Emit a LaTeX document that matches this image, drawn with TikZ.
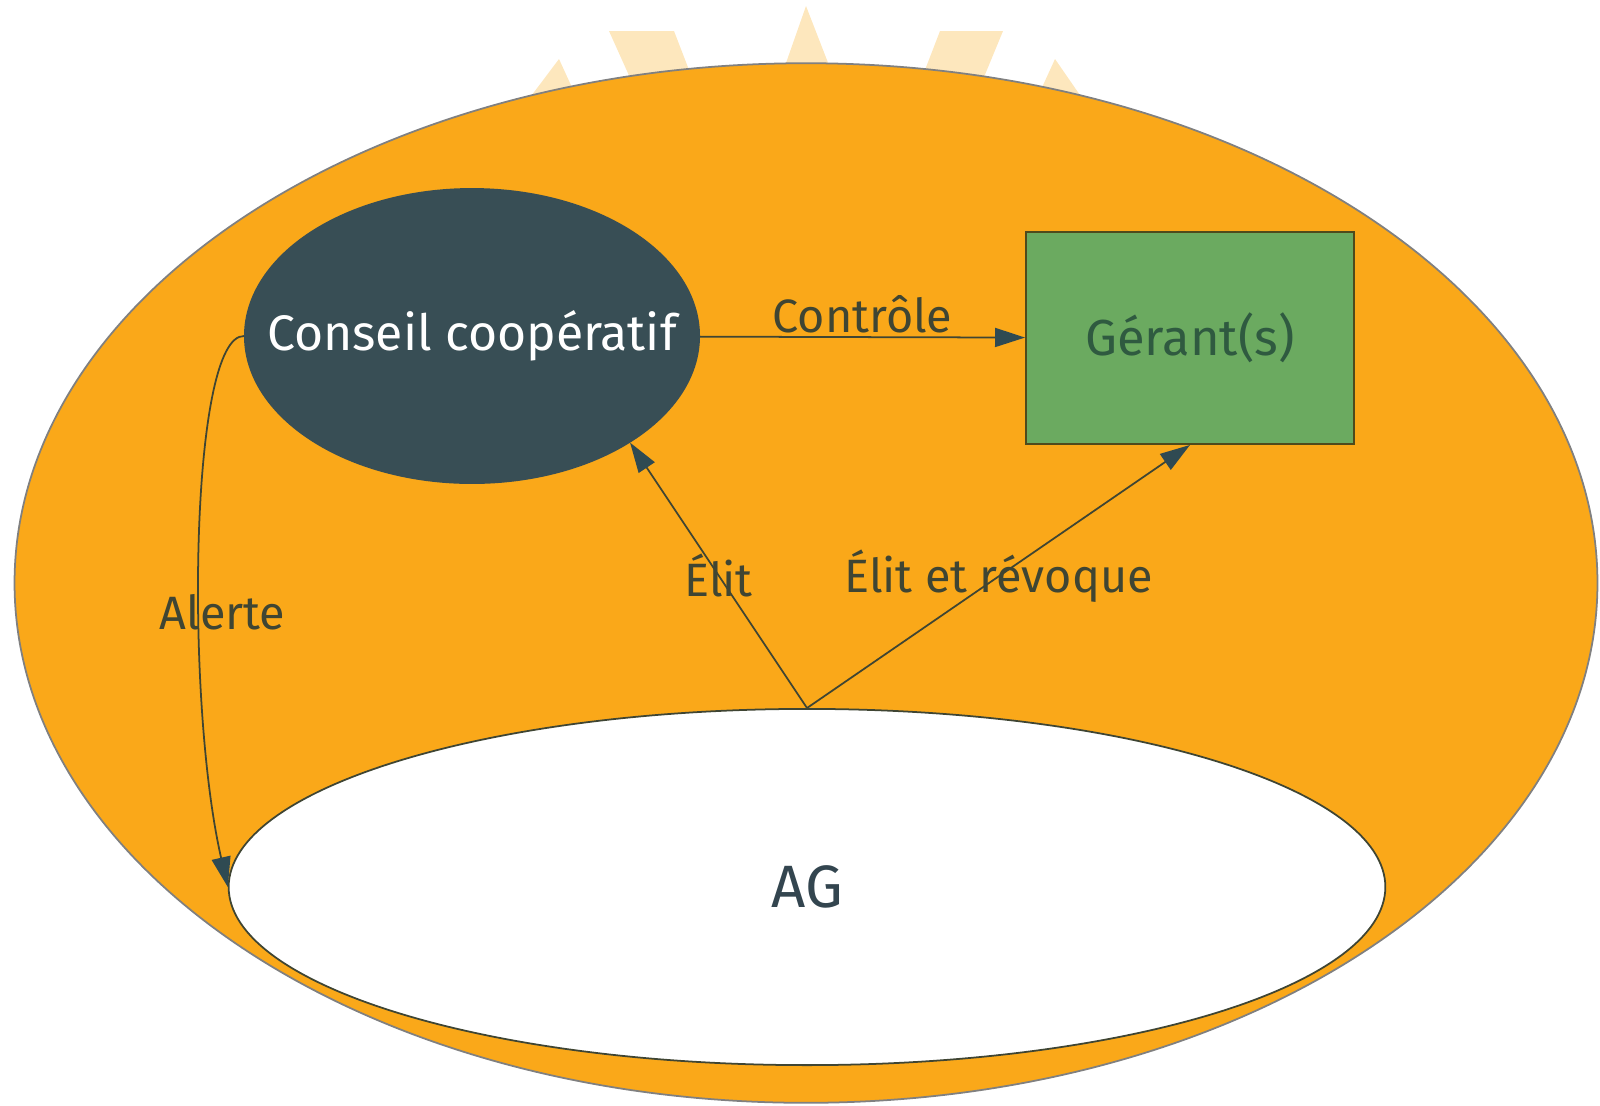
\documentclass[tikz,border=0pt]{standalone}
\usepackage{fontspec}
\setmainfont{Fira Sans}
\usetikzlibrary{shapes.geometric,arrows.meta}
\definecolor{fond}{HTML}{FAA819}
\definecolor{rayon}{HTML}{FDE7BD}
\definecolor{ardoise}{HTML}{384E55}
\definecolor{vert}{HTML}{6BAA60}
\definecolor{trait}{HTML}{3F4533}
\definecolor{pointe}{HTML}{2F4A52}
\definecolor{bordvert}{HTML}{4F4A1C}
\definecolor{textevert}{HTML}{2F5A40}
\definecolor{texteag}{HTML}{33454F}
\begin{document}
\begin{tikzpicture}[->, >={Triangle[length=0.3cm,width=0.19cm,color=pointe]}, x=0.01cm, y=-0.01cm, color=trait, line width=0.5pt, main node/.style={ellipse, draw, inner sep=0pt}]
        \tikzstyle{every node}=[font=\fontsize{13.3}{16}\selectfont]
        \useasboundingbox (0,0) rectangle (1600,1105);

          % rayons derriere
          \fill[-, rayon] (559,59) -- (596,140) -- (498,140) -- cycle;
          \fill[-, rayon] (609,31) -- (674,31) -- (716,140) -- (658,140) -- cycle;
          \fill[-, rayon] (806,6) -- (858,140) -- (759,140) -- cycle;
          \fill[-, rayon] (940,31) -- (1003,31) -- (958,140) -- (898,140) -- cycle;
          \fill[-, rayon] (1055,59) -- (1111,140) -- (1018,140) -- cycle;

          \node[main node, fill=fond, draw=gray, minimum width=15.82cm, minimum height=10.39cm] (0) at (806,583) {};
          \node[main node, fill=ardoise, draw=ardoise, text=white, minimum width=4.54cm, minimum height=2.94cm, font=\fontsize{14.2}{17}\selectfont] (1) at (472,336) {\makebox[0pt]{Conseil coopératif}};
          \node[draw=bordvert, fill=vert, text=textevert, minimum width=3.28cm, minimum height=2.12cm, font=\fontsize{14.4}{17}\selectfont] (2) at (1190,338) {Gérant(s)};
          \node[main node, fill=white, text=texteag, minimum width=11.56cm, minimum height=3.56cm, font=\fontsize{17}{20}\selectfont] (3) at (807,887) {AG};

          \path
            (1) edge node [above, inner sep=1pt] {Contrôle} (2)
            (3.north) edge node {Élit} (1.-34)
            (3.north) edge node {Élit et révoque} (2.south);
          \draw (1.west) .. controls (190,335) and (185,700) .. node [pos=0.6, xshift=0.23cm] {Alerte} (3.west);

        \end{tikzpicture}
\end{document}
